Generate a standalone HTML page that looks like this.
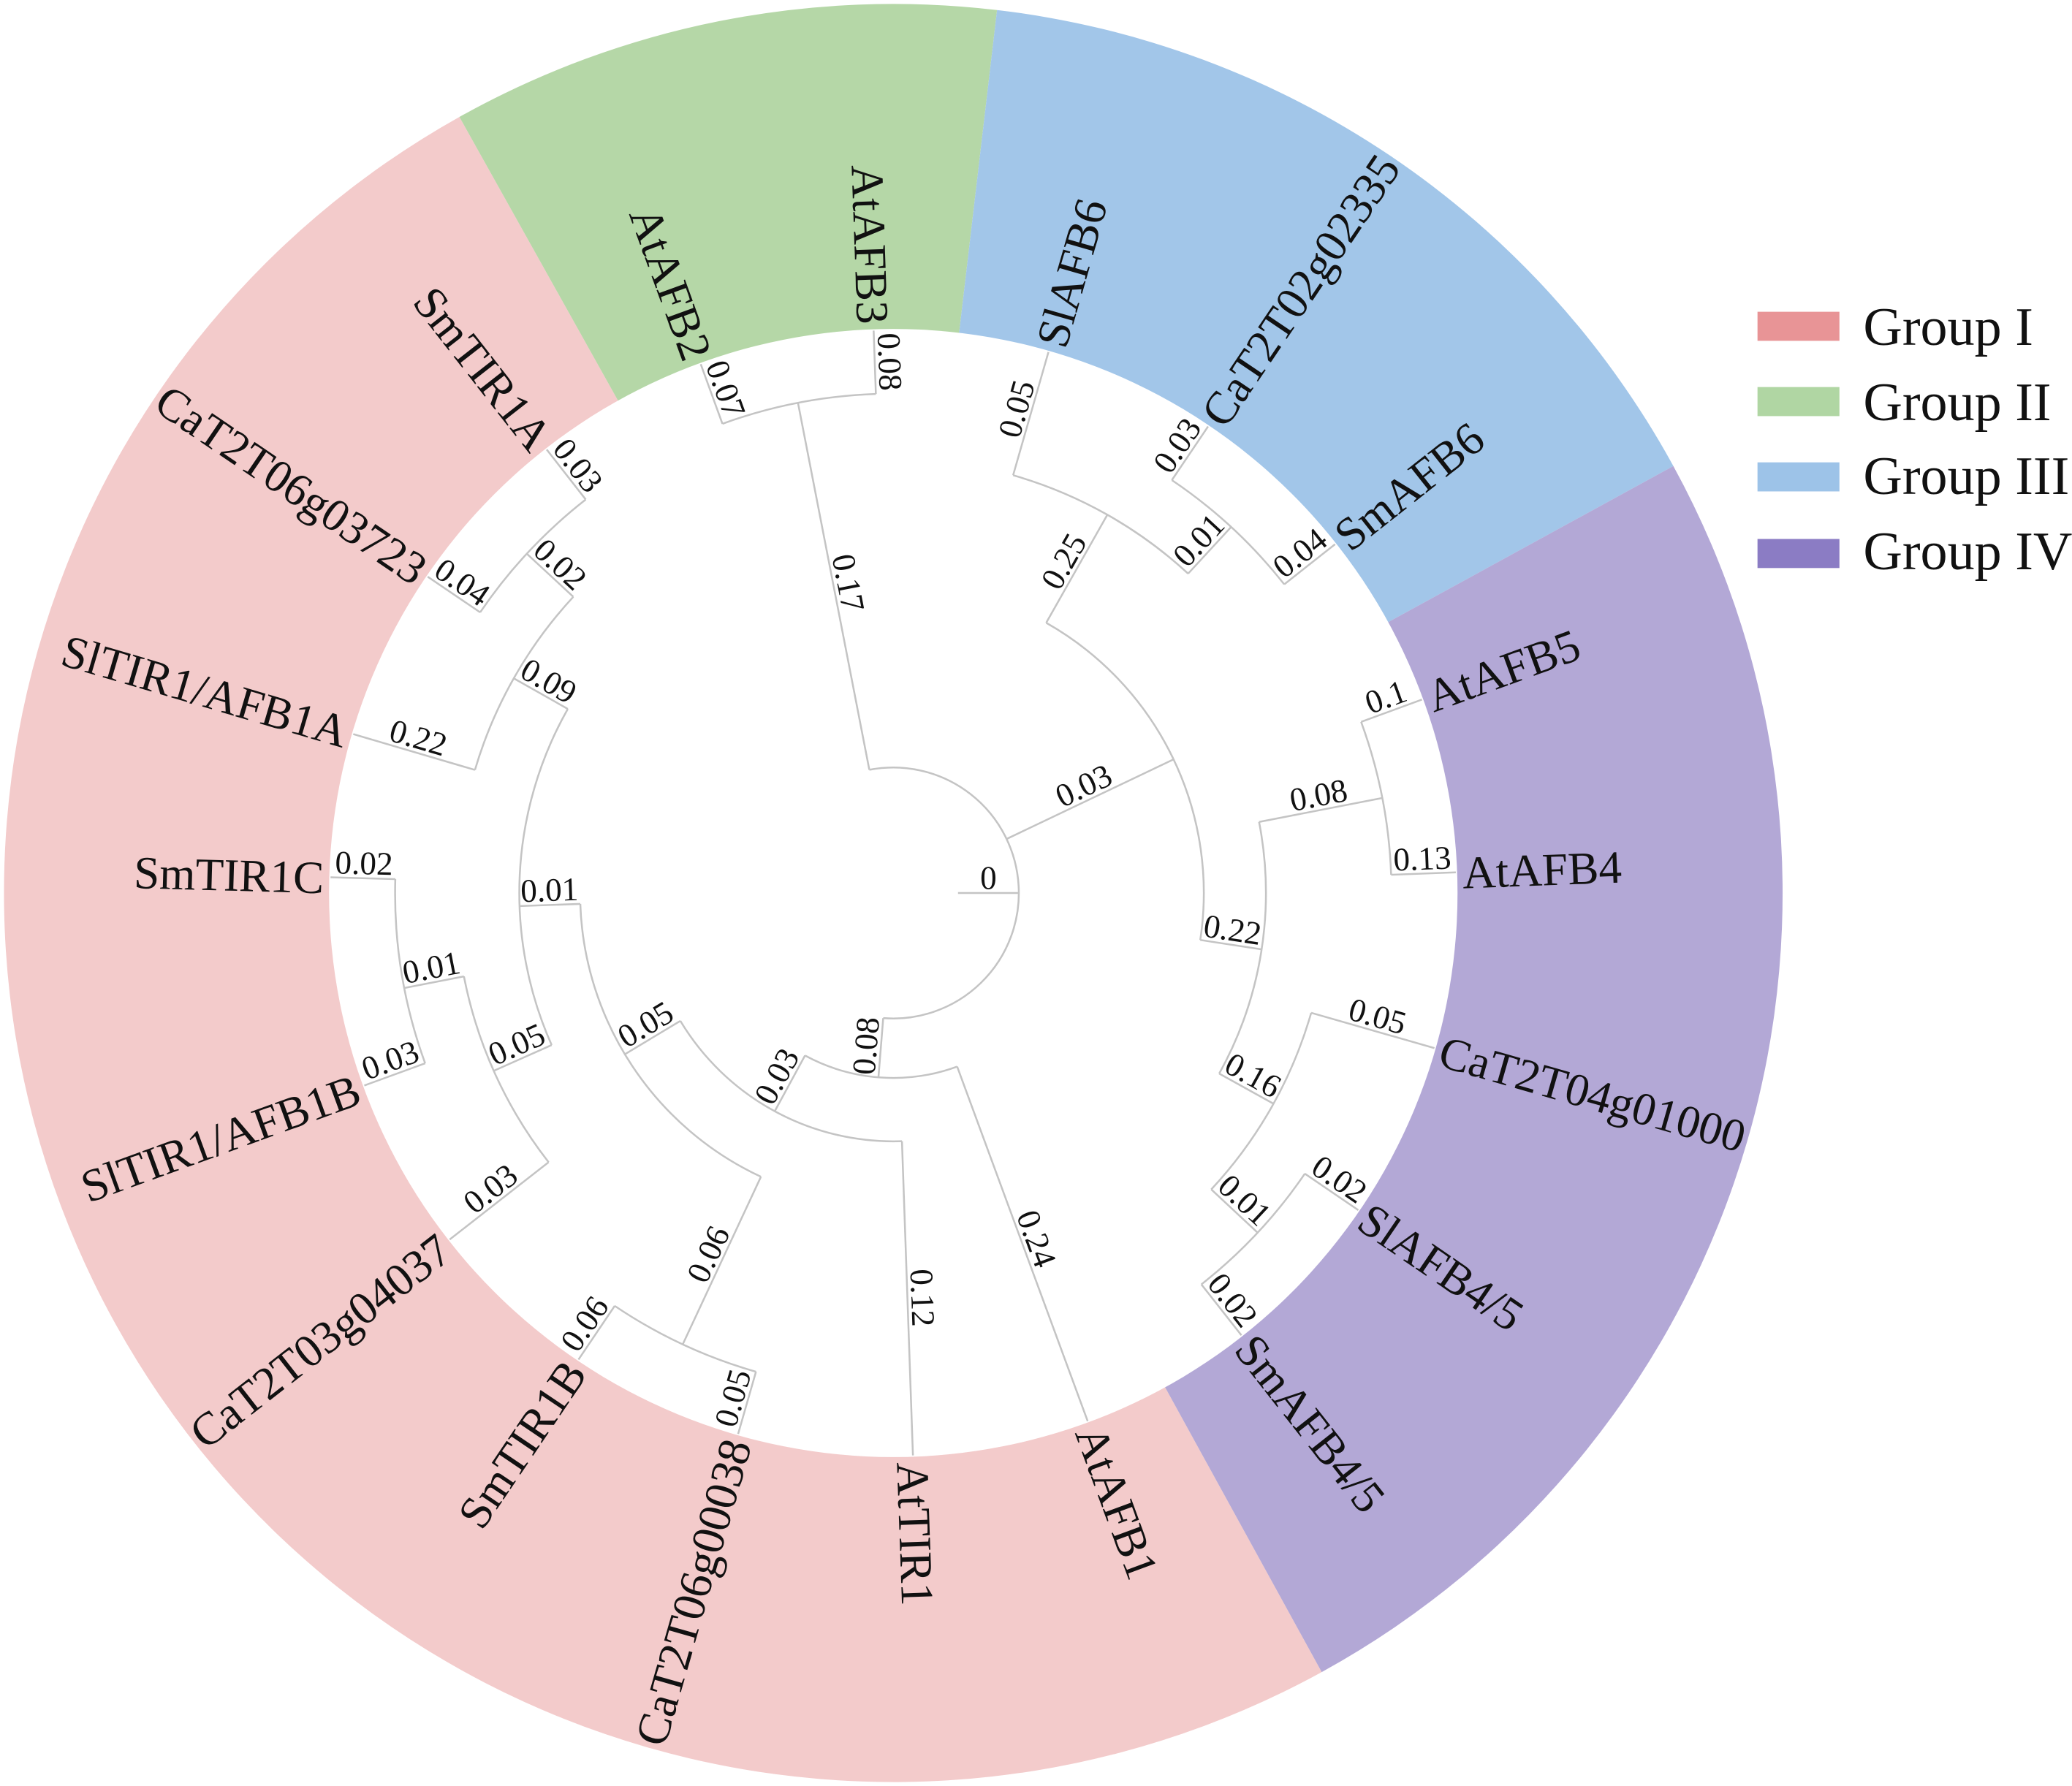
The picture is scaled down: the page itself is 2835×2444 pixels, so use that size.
<!DOCTYPE html>
<html><head><meta charset="utf-8">
<style>
html,body{margin:0;padding:0;background:#fff;}
svg{display:block;}
text{font-family:"Liberation Serif",serif;fill:#111;}
.leaf{font-size:35px;}
.bl{font-size:25px;}
.lg{font-size:41px;}
</style></head>
<body>
<svg id="s" xmlns="http://www.w3.org/2000/svg" width="2835" height="2444" viewBox="0 0 1568 1352" preserveAspectRatio="none">
<g id="wedges"></g>
<circle cx="676" cy="676" r="427" fill="#fff"/>
<g id="tree" fill="none" stroke="#c4c4c4" stroke-width="1.4"></g>
<g id="labels">
<text class="leaf" a="92">AtAFB3</text>
<text class="leaf" a="110">AtAFB2</text>
<text class="leaf" a="128">SmTIR1A</text>
<text class="leaf" a="145.8">CaT2T06g03723</text>
<text class="leaf" a="163.6">SlTIR1/AFB1A</text>
<text class="leaf" a="178.4">SmTIR1C</text>
<text class="leaf" a="200">SlTIR1/AFB1B</text>
<text class="leaf" a="218">CaT2T03g04037</text>
<text class="leaf" a="236">SmTIR1B</text>
<text class="leaf" a="254">CaT2T06g00038</text>
<text class="leaf" a="-88">AtTIR1</text>
<text class="leaf" a="-69.8">AtAFB1</text>
<text class="leaf" a="-51.8">SmAFB4/5</text>
<text class="leaf" a="-34.3">SlAFB4/5</text>
<text class="leaf" a="-16">CaT2T04g01000</text>
<text class="leaf" a="2.1">AtAFB4</text>
<text class="leaf" a="20.1">AtAFB5</text>
<text class="leaf" a="38.3">SmAFB6</text>
<text class="leaf" a="56">CaT2T02g02335</text>
<text class="leaf" a="74">SlAFB6</text>

<text class="bl" a="0" r="72">0</text>
<text class="bl" a="101" r="237">0.17</text>
<text class="bl" a="110" r="402">0.07</text>
<text class="bl" a="92" r="402">0.08</text>
<text class="bl" a="25.5" r="165">0.03</text>
<text class="bl" a="60.5" r="282">0.25</text>
<text class="bl" a="74" r="378">0.05</text>
<text class="bl" a="47.3" r="353">0.01</text>
<text class="bl" a="56" r="401">0.03</text>
<text class="bl" a="38.3" r="401">0.04</text>
<text class="bl" a="-8.7" r="258">0.22</text>
<text class="bl" a="11" r="330">0.08</text>
<text class="bl" a="20.1" r="401">0.1</text>
<text class="bl" a="2.1" r="401">0.13</text>
<text class="bl" a="-29" r="305">0.16</text>
<text class="bl" a="-16" r="378">0.05</text>
<text class="bl" a="-43" r="353">0.01</text>
<text class="bl" a="-34.3" r="401">0.02</text>
<text class="bl" a="-51.8" r="401">0.02</text>
<text class="bl" a="265.4" r="117">0.08</text>
<text class="bl" a="-69.8" r="283">0.24</text>
<text class="bl" a="241.5" r="164">0.03</text>
<text class="bl" a="-88" r="307">0.12</text>
<text class="bl" a="211" r="212">0.05</text>
<text class="bl" a="245" r="307">0.06</text>
<text class="bl" a="236" r="401">0.06</text>
<text class="bl" a="254" r="401">0.05</text>
<text class="bl" a="182" r="260">0.01</text>
<text class="bl" a="150.5" r="306">0.09</text>
<text class="bl" a="163.6" r="378">0.22</text>
<text class="bl" a="137.2" r="354">0.02</text>
<text class="bl" a="128" r="402">0.03</text>
<text class="bl" a="145.8" r="402">0.04</text>
<text class="bl" a="204" r="307">0.05</text>
<text class="bl" a="218" r="378">0.03</text>
<text class="bl" a="191" r="354">0.01</text>
<text class="bl" a="178.4" r="401">0.02</text>
<text class="bl" a="200" r="401">0.03</text>
</g>
<g id="legend">
<rect x="1330" y="236" width="62" height="22" fill="#e89496"/>
<rect x="1330" y="293" width="62" height="22" fill="#b0d6a3"/>
<rect x="1330" y="350" width="62" height="22" fill="#9dc3e8"/>
<rect x="1330" y="408" width="62" height="22" fill="#8b7cc4"/>
<text class="lg" x="1410" y="261">Group I</text>
<text class="lg" x="1410" y="318">Group II</text>
<text class="lg" x="1410" y="374">Group III</text>
<text class="lg" x="1410" y="431">Group IV</text>
</g>
</svg>
<script>
(function(){
var NS="http://www.w3.org/2000/svg",cx=676,cy=676;
function P(r,a){var t=a*Math.PI/180;return [cx+r*Math.cos(t),cy-r*Math.sin(t)];}
function el(tag,attrs,parent){var e=document.createElementNS(NS,tag);for(var k in attrs)e.setAttribute(k,attrs[k]);parent.appendChild(e);return e;}
var tree=document.getElementById('tree'),wedges=document.getElementById('wedges');
function arcD(r,a1,a2){var p1=P(r,a1),p2=P(r,a2),d=a2-a1;var large=Math.abs(d)>180?1:0;var sweep=d>0?0:1;
 return "M"+p1[0]+" "+p1[1]+" A"+r+" "+r+" 0 "+large+" "+sweep+" "+p2[0]+" "+p2[1];}
function arc(r,a1,a2){el('path',{d:arcD(r,a1,a2)},tree);}
function rad(a,r1,r2){var p1=P(r1,a),p2=P(r2,a);el('line',{x1:p1[0],y1:p1[1],x2:p2[0],y2:p2[1]},tree);}
function wedge(a1,a2,col){var R=673,r=420;var o1=P(R,a1),o2=P(R,a2),i1=P(r,a1),i2=P(r,a2);var d=a2-a1,large=Math.abs(d)>180?1:0;
 var D="M"+o1[0]+" "+o1[1]+" A"+R+" "+R+" 0 "+large+" 0 "+o2[0]+" "+o2[1]+" L"+i2[0]+" "+i2[1]+" A"+r+" "+r+" 0 "+large+" 1 "+i1[0]+" "+i1[1]+" Z";
 el('path',{d:D,fill:col},wedges);}
wedge(119.2,298.8,"#f3cbcb");
wedge(83.3,119.2,"#b5d7a7");
wedge(28.7,83.3,"#a2c6e9");
wedge(-61.2,28.7,"#b3a8d6");
arc(95,-94.6,101); rad(0,49,95);
rad(101,95,378); arc(378,92,110); rad(92,378,426); rad(110,378,426);
rad(25.5,95,235); arc(235,-8.7,60.5);
rad(60.5,235,329); arc(329,47.3,74); rad(74,329,426);
rad(47.3,329,377); arc(377,38.3,56); rad(56,377,426); rad(38.3,377,426);
rad(-8.7,235,282); arc(282,-29,11);
rad(11,282,377); arc(377,2.1,20.1); rad(20.1,377,426); rad(2.1,377,426);
rad(-29,282,329); arc(329,-43,-16); rad(-16,329,426);
rad(-43,329,377); arc(377,-51.8,-34.3); rad(-34.3,377,426); rad(-51.8,377,426);
rad(-94.6,95,140); arc(140,-118.5,-69.8); rad(-69.8,140,426);
rad(-118.5,140,188); arc(188,-149,-88); rad(-88,188,426);
rad(211,188,237); arc(237,182,245);
rad(245,237,377); arc(377,236,254); rad(236,377,426); rad(254,377,426);
rad(182,237,283); arc(283,150.5,204);
rad(150.5,283,330); arc(330,137.2,163.6); rad(163.6,330,426);
rad(137.2,330,378); arc(378,128,145.8); rad(128,378,426); rad(145.8,378,426);
rad(204,283,331); arc(331,191,218); rad(218,331,426);
rad(191,331,377); arc(377,178.4,200); rad(178.4,377,426); rad(200,377,426);
var ts=document.querySelectorAll('#labels text');
for(var i=0;i<ts.length;i++){var t=ts[i];var a=parseFloat(t.getAttribute('a'));
 var left=Math.cos(a*Math.PI/180)<0;var isLeaf=t.getAttribute('class')=='leaf';
 var r=isLeaf?431:parseFloat(t.getAttribute('r'));
 var rot=left?(180-a):(-a);
 t.setAttribute('x',left?cx-r:cx+r);
 if(isLeaf){t.setAttribute('y',cy);t.setAttribute('dy','0.35em');t.setAttribute('text-anchor',left?'end':'start');}
 else{t.setAttribute('y',cy-3);t.setAttribute('text-anchor','middle');}
 t.setAttribute('transform','rotate('+rot+' '+cx+' '+cy+')');}
})();
</script>
</body></html>
